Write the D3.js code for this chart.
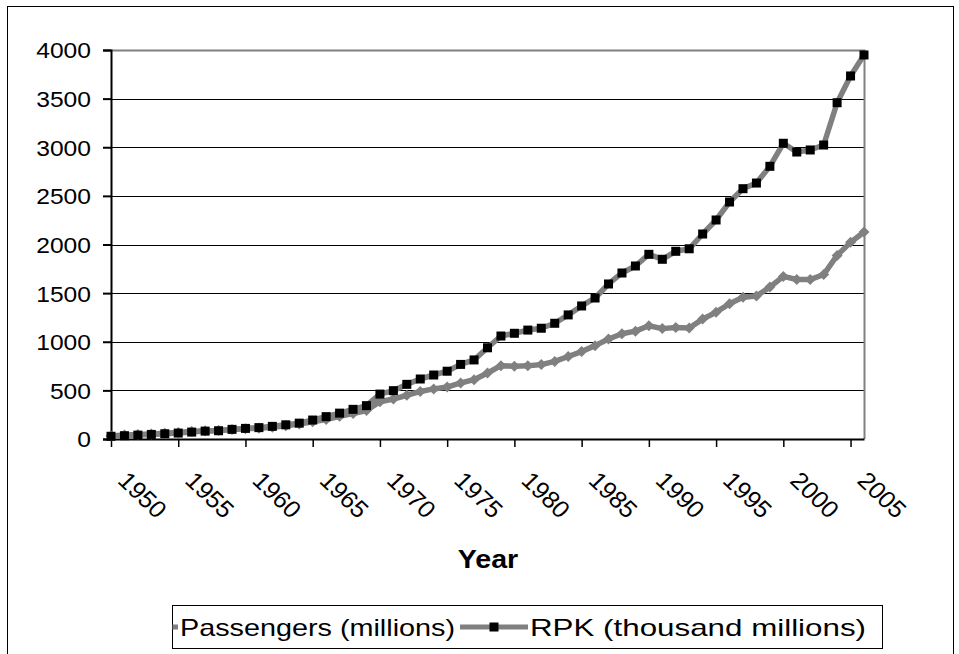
<!DOCTYPE html>
<html>
<head>
<meta charset="utf-8">
<script src="https://cdn.jsdelivr.net/npm/d3@7/dist/d3.min.js"></script>
<style>
  body { margin: 0; background: #fff; }
  svg { display: block; }
  text { font-family: "Liberation Sans", Arial, sans-serif; fill: #000; }
</style>
</head>
<body>
<svg id="chart" width="959" height="654"></svg>
<script>
// World scheduled air traffic, 1950-2006
const years = [
  1950, 1951, 1952, 1953, 1954, 1955, 1956, 1957, 1958, 1959,
  1960, 1961, 1962, 1963, 1964, 1965, 1966, 1967, 1968, 1969,
  1970, 1971, 1972, 1973, 1974, 1975, 1976, 1977, 1978, 1979,
  1980, 1981, 1982, 1983, 1984, 1985, 1986, 1987, 1988, 1989,
  1990, 1991, 1992, 1993, 1994, 1995, 1996, 1997, 1998, 1999,
  2000, 2001, 2002, 2003, 2004, 2005, 2006
];

// Passengers carried (millions)
const passengers = [
  31, 42, 46, 52, 59, 68, 77, 86, 88, 98,
  106, 111, 121, 135, 155, 177, 200, 233, 261, 293,
  383, 411, 450, 489, 515, 534, 576, 610, 679, 754,
  748, 752, 765, 798, 848, 899, 960, 1028, 1082, 1109,
  1165, 1135, 1146, 1142, 1233, 1304, 1391, 1457, 1471, 1562,
  1672, 1640, 1639, 1691, 1888, 2022, 2128
];

// Revenue passenger-kilometres (thousand millions)
const rpk = [
  28, 34, 40, 47, 54, 61, 71, 81, 85, 99,
  109, 117, 130, 146, 163, 195, 230, 266, 305, 343,
  462, 497, 562, 617, 658, 697, 767, 813, 938, 1059,
  1087, 1120, 1139, 1190, 1276, 1368, 1450, 1594, 1707, 1779,
  1899, 1848, 1930, 1956, 2108, 2252, 2437, 2574, 2632, 2804,
  3041, 2951, 2972, 3023, 3458, 3733, 3949
];

const yTicks = [0, 500, 1000, 1500, 2000, 2500, 3000, 3500, 4000];
const xTickLabels = ["1950", "1955", "1960", "1965", "1970", "1975",
                     "1980", "1985", "1990", "1995", "2000", "2005"];

const seriesNames = ["Passengers (millions)", "RPK (thousand millions)"];

const svg = d3.select("#chart");
const plot = { left: 111, right: 864, top: 50, bottom: 439 };

const x = d3.scalePoint().domain(years).range([plot.left, plot.right]);
const y = d3.scaleLinear().domain([0, 4000]).range([plot.bottom, plot.top]);

// outer frame
svg.append("rect")
  .attr("x", 7.5).attr("y", 6.5).attr("width", 946).attr("height", 660)
  .attr("fill", "#fff").attr("stroke", "#000").attr("stroke-width", 1);

// horizontal gridlines
svg.append("g")
  .selectAll("line")
  .data(yTicks.filter(v => v > 0 && v < 4000))
  .join("line")
  .attr("x1", plot.left).attr("x2", plot.right)
  .attr("y1", d => Math.round(y(d)) + 0.5).attr("y2", d => Math.round(y(d)) + 0.5)
  .attr("stroke", "#000").attr("stroke-width", 1);

// plot-area border (top and right)
svg.append("path")
  .attr("d", `M${plot.left},${plot.top + 0.5}H${plot.right + 0.5}V${plot.bottom}`)
  .attr("fill", "none").attr("stroke", "#808080").attr("stroke-width", 2);

// y axis
const yAxis = d3.axisLeft(y).tickValues(yTicks).tickSize(8).tickPadding(0).tickFormat(d3.format("d"));
const gy = svg.append("g").attr("transform", `translate(${plot.left},0)`).call(yAxis);
gy.select(".domain").attr("stroke", "#000").attr("stroke-width", 2);
gy.selectAll(".tick line").attr("stroke", "#000").attr("stroke-width", 2);
gy.selectAll(".tick text").remove();
gy.selectAll(".tick").append("text")
  .attr("transform", "translate(-20,0) scale(1.12,1)")
  .attr("text-anchor", "end")
  .attr("dy", "0.36em")
  .style("font-size", "22px")
  .text(d => d);

// x axis
const xAxis = d3.axisBottom(x)
  .tickValues(years.filter(v => xTickLabels.includes(String(v))))
  .tickSize(8).tickSizeOuter(0);
const gx = svg.append("g").attr("transform", `translate(0,${plot.bottom})`).call(xAxis);
gx.select(".domain").attr("stroke", "#000").attr("stroke-width", 2);
gx.selectAll(".tick line").attr("stroke", "#000").attr("stroke-width", 1.5);
gx.selectAll(".tick text").remove();
gx.selectAll(".tick").append("text")
  .attr("transform", "translate(5,43) scale(1.05,1) rotate(45)")
  .attr("text-anchor", "start")
  .style("font-size", "24px")
  .text(d => d);

// axis title
svg.append("text")
  .attr("transform", "translate(488,568) scale(1.1,1)")
  .attr("text-anchor", "middle")
  .style("font-size", "26px").style("font-weight", "bold")
  .text("Year");

// series
const line = d3.line().x((d, i) => x(years[i])).y(d => y(d));
const lineColor = "#808080";

svg.append("path").datum(passengers)
  .attr("d", line).attr("fill", "none")
  .attr("stroke", lineColor).attr("stroke-width", 5.5).attr("stroke-linejoin", "round");

svg.append("g").selectAll("path")
  .data(passengers)
  .join("path")
  .attr("transform", (d, i) => `translate(${x(years[i])},${y(d)})`)
  .attr("d", "M0,-5.5L5.5,0L0,5.5L-5.5,0Z")
  .attr("fill", lineColor);

svg.append("path").datum(rpk)
  .attr("d", line).attr("fill", "none")
  .attr("stroke", lineColor).attr("stroke-width", 5.5).attr("stroke-linejoin", "round");

svg.append("g").selectAll("rect")
  .data(rpk)
  .join("rect")
  .attr("x", (d, i) => x(years[i]) - 4.5)
  .attr("y", d => y(d) - 4.5)
  .attr("width", 9).attr("height", 9)
  .attr("fill", "#000");

// legend
const legend = { x: 172.5, y: 605.5, w: 710, h: 43 };
svg.append("clipPath").attr("id", "legend-clip")
  .append("rect").attr("x", legend.x).attr("y", legend.y).attr("width", legend.w).attr("height", legend.h);
svg.append("rect")
  .attr("x", legend.x).attr("y", legend.y).attr("width", legend.w).attr("height", legend.h)
  .attr("fill", "#fff").attr("stroke", "#000").attr("stroke-width", 1);

const lg = svg.append("g").attr("clip-path", "url(#legend-clip)");
const legendItems = [
  { name: seriesNames[0], x0: 110, len: 275, marker: "diamond" },
  { name: seriesNames[1], x0: 460, len: 336, marker: "square" }
];
const ly = 627;
legendItems.forEach(item => {
  lg.append("line")
    .attr("x1", item.x0).attr("x2", item.x0 + 68)
    .attr("y1", ly).attr("y2", ly)
    .attr("stroke", lineColor).attr("stroke-width", 5);
  const cx = item.x0 + 34;
  if (item.marker === "square") {
    lg.append("rect").attr("x", cx - 4.5).attr("y", ly - 4.5)
      .attr("width", 9).attr("height", 9).attr("fill", "#000");
  } else {
    lg.append("path").attr("transform", `translate(${cx},${ly})`)
      .attr("d", "M0,-5.5L5.5,0L0,5.5L-5.5,0Z").attr("fill", lineColor);
  }
  lg.append("text")
    .attr("x", item.x0 + 70).attr("y", ly + 9)
    .attr("textLength", item.len).attr("lengthAdjust", "spacingAndGlyphs")
    .style("font-size", "24px")
    .text(item.name);
});
</script>
</body>
</html>
